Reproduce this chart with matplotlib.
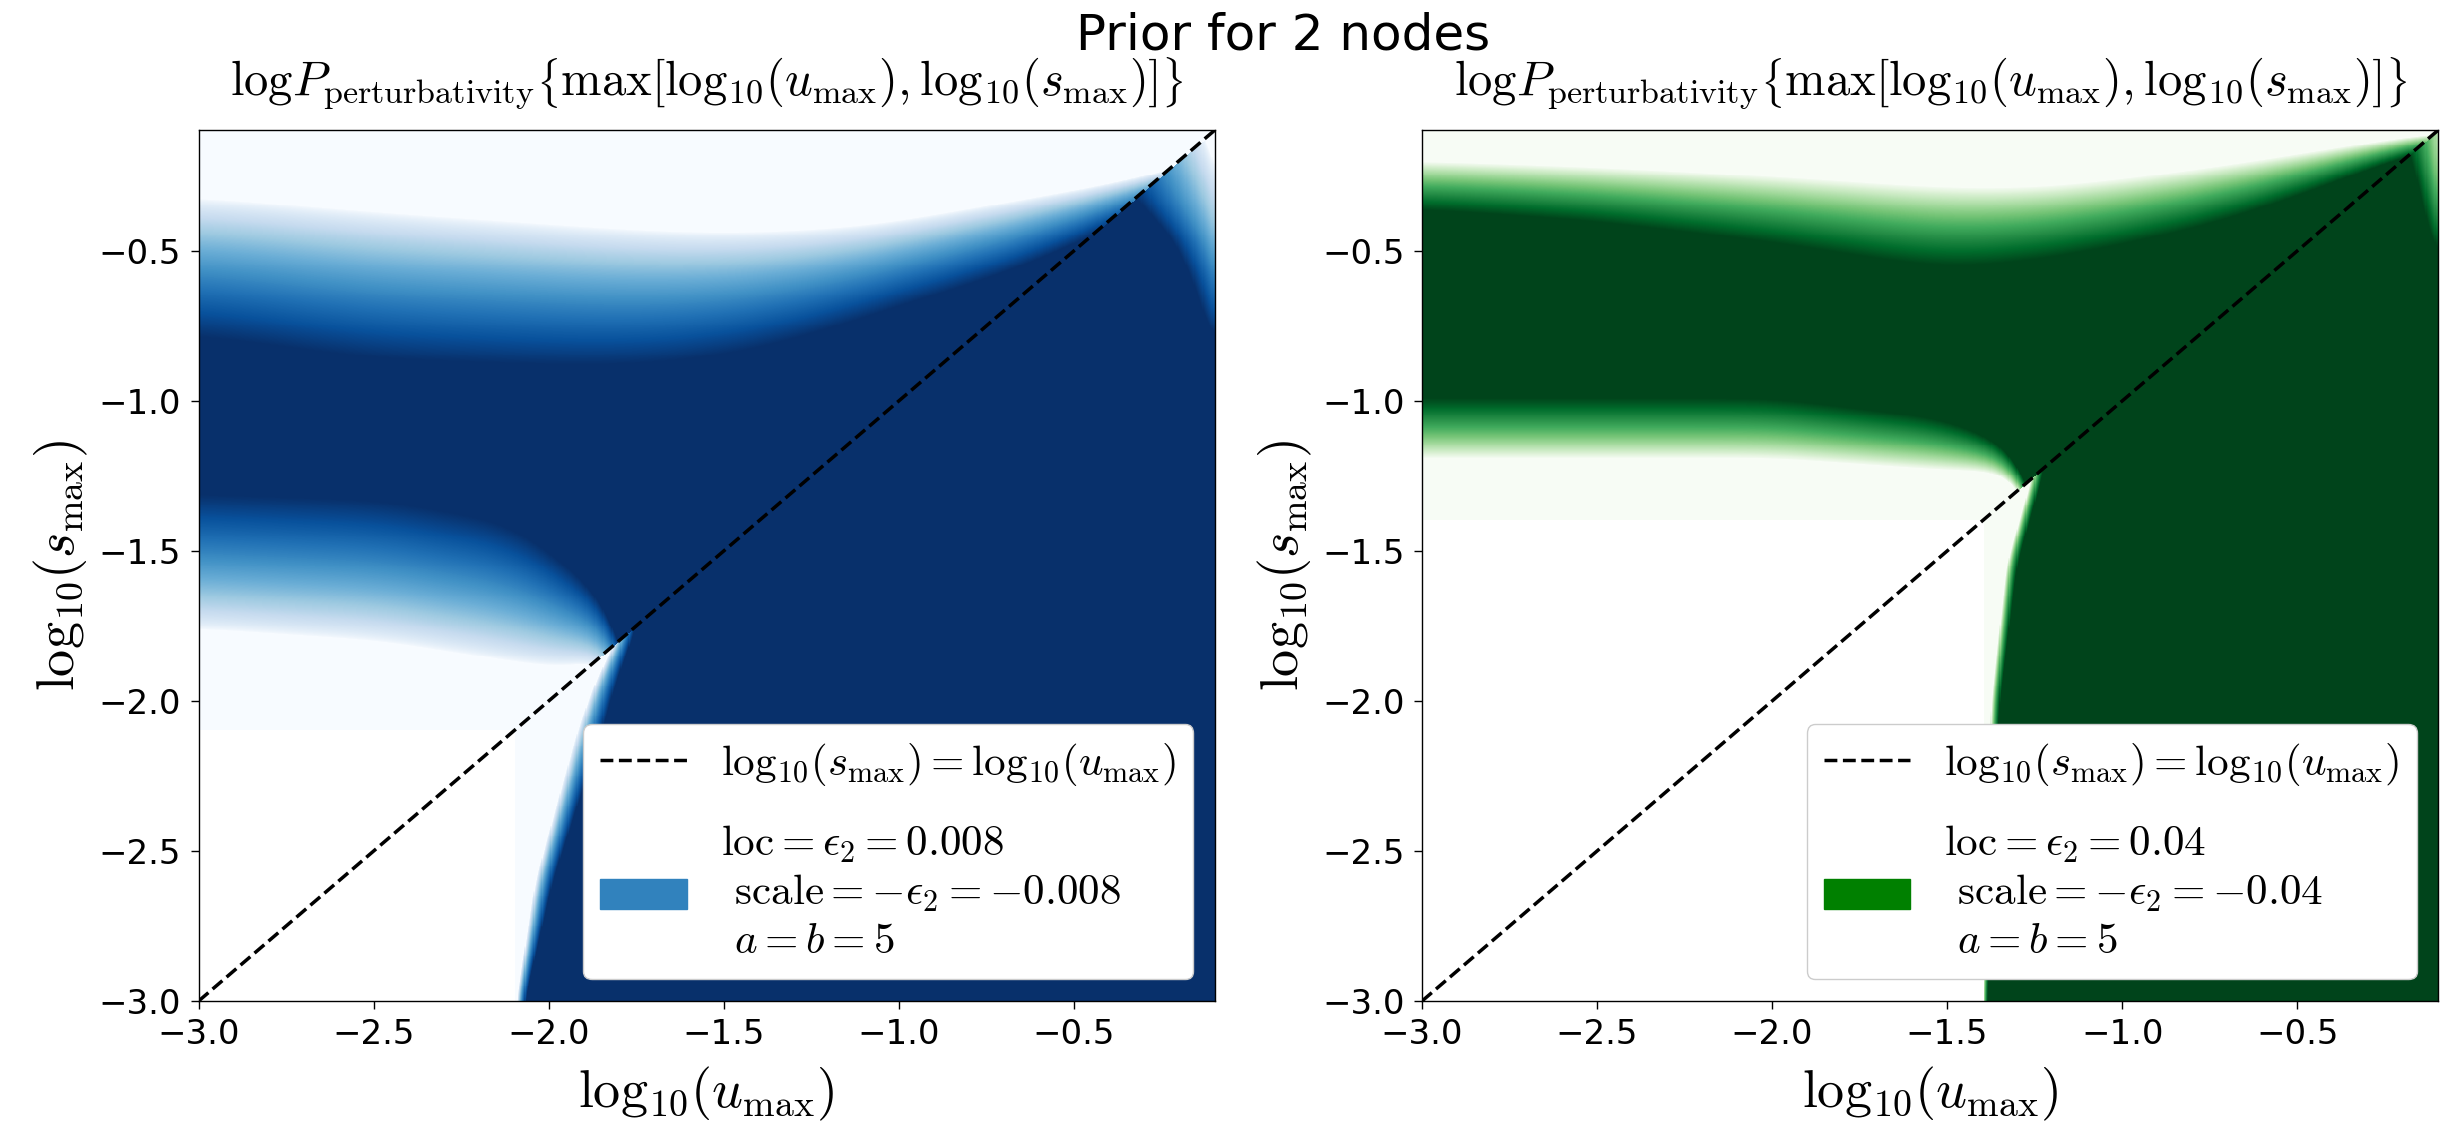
import numpy as np
import matplotlib.pyplot as plt
import matplotlib.patches as mpatches
from matplotlib.lines import Line2D

plt.rcParams['mathtext.fontset'] = 'cm'

# log10 range of both couplings
lo, hi = -3.0, np.log10(0.8)
ticks = [-3.0, -2.5, -2.0, -1.5, -1.0, -0.5]

# beta prior settings of the two panels
eps_values = [0.008, 0.04]
cmaps = ['Blues', 'Greens']
patch_colors = ['#3182bd', 'green']

# ---- eps = 0.008 surface (edges of the log-prior bands) ----
# upper band above the diagonal: light and dark edge vs log10(u)
b_top_x = [-3.0, -2.5, -2.0, -1.75, -1.5, -1.25, -1.05, -0.66, -0.32, -0.1]
b_top_light = [-0.32, -0.37, -0.41, -0.43, -0.44, -0.43, -0.41, -0.33, -0.26, -0.18]
b_top_dark = [-0.78, -0.86, -0.88, -0.88, -0.85, -0.78, -0.70, -0.56, -0.38, -0.26]
# lower band above the diagonal
b_low_x = [-3.0, -2.48, -2.1, -1.9, -1.77, -1.6]
b_low_dark = [-1.31, -1.33, -1.41, -1.60, -1.72, -3.0]
b_low_light = [-1.76, -1.80, -1.87, -1.90, -1.78, -3.05]
# left edge of the dark wedge below the diagonal, vs log10(s)
b_edge_y = [-3.0, -2.6, -2.1, -1.94, -1.75]
b_edge_light = [-2.095, -2.04, -1.92, -1.87, -1.79]
b_edge_dark = [-2.07, -1.99, -1.85, -1.81, -1.75]
# fade towards the right edge in the top-right corner, vs log10(s)
b_corner_y = [-0.85, -0.75, -0.6, -0.45, -0.32, -0.2, -0.1]
b_corner_dark = [-0.05, -0.12, -0.16, -0.22, -0.33, -0.40, -0.45]
b_corner_light = [0.10, 0.05, 0.0, -0.04, -0.06, -0.10, -0.14]

# ---- eps = 0.04 surface ----
g_top_x = [-3.0, -2.5, -2.0, -1.5, -1.245, -1.0, -0.68, -0.3, -0.1]
g_top_light = [-0.20, -0.22, -0.25, -0.29, -0.29, -0.26, -0.21, -0.14, -0.10]
g_top_dark = [-0.36, -0.40, -0.47, -0.56, -0.53, -0.48, -0.39, -0.23, -0.14]
g_low_x = [-3.0, -2.5, -2.0, -1.5, -1.23, -1.0]
g_low_dark = [-0.99, -0.99, -0.99, -1.06, -1.20, -3.0]
g_low_light = [-1.19, -1.19, -1.19, -1.23, -1.24, -3.05]
g_edge_y = [-3.0, -2.5, -2.0, -1.54, -1.22]
g_edge_light = [-1.40, -1.39, -1.375, -1.33, -1.25]
g_edge_dark = [-1.385, -1.37, -1.35, -1.30, -1.22]
g_corner_y = [-0.6, -0.45, -0.35, -0.25, -0.1]
g_corner_dark = [-0.05, -0.12, -0.14, -0.16, -0.20]
g_corner_light = [0.06, -0.02, -0.05, -0.07, -0.08]

surfaces = [
    (b_top_x, b_top_light, b_top_dark, b_low_x, b_low_light, b_low_dark,
     b_edge_y, b_edge_light, b_edge_dark, b_corner_y, b_corner_light, b_corner_dark),
    (g_top_x, g_top_light, g_top_dark, g_low_x, g_low_light, g_low_dark,
     g_edge_y, g_edge_light, g_edge_dark, g_corner_y, g_corner_light, g_corner_dark),
]

N = 900
grid = np.linspace(lo, hi, N)


def ramp(v, v0, v1):
    # 0 at v0, 1 at v1
    return np.clip((v - v0) / (v1 - v0), 0, 1)


def edge(xp, fp, sigma):
    # edge curve on the grid, rounded off with a gaussian
    e = np.interp(grid, xp, fp)
    step = grid[1] - grid[0]
    half = int(3 * sigma / step)
    k = np.exp(-0.5 * (np.arange(-half, half + 1) * step / sigma) ** 2)
    k /= k.sum()
    return np.convolve(np.pad(e, half, mode='edge'), k, mode='valid')


def surface(eps, tx, tl, td, lx, ll, ld, ey, el, ed, cy, cl, cd):
    X, Y = np.meshgrid(grid, grid)
    up = ramp(Y, edge(tx, tl, 0.12)[None, :], edge(tx, td, 0.12)[None, :])
    dn = ramp(Y, edge(lx, ll, 0.08)[None, :], edge(lx, ld, 0.08)[None, :])
    side = ramp(X, edge(ey, el, 0.04)[:, None], edge(ey, ed, 0.04)[:, None])
    corner = ramp(X, edge(cy, cl, 0.05)[:, None], edge(cy, cd, 0.05)[:, None])
    D = np.where(Y >= X, np.minimum(up, dn), np.minimum(side, corner)) ** 0.7
    # outside the support of the prior
    return np.ma.masked_where(np.maximum(X, Y) < np.log10(eps), D)


title = (r'$\mathrm{log}P_{\rm perturbativity}\left\{\mathrm{max}'
         r'[\mathrm{log}_{10}(u_{\rm max}),\mathrm{log}_{10}(s_{\rm max})]\right\}$')

fig = plt.figure(figsize=(24.4, 11.25), dpi=100)
axes = [fig.add_axes([0.0814, 0.1102, 0.4165, 0.7742]),
        fig.add_axes([0.5828, 0.1102, 0.4165, 0.7742])]

for ax, eps, cname, pc, pars in zip(axes, eps_values, cmaps, patch_colors, surfaces):
    cmap = plt.get_cmap(cname).copy()
    cmap.set_bad('white')
    D = surface(eps, *pars)
    ax.imshow(D, origin='lower', extent=[lo, hi, lo, hi], cmap=cmap,
              vmin=0, vmax=1, aspect='auto', interpolation='nearest')
    ax.plot([lo, hi], [lo, hi], 'k--', lw=2.5)
    ax.set_xlim(lo, hi)
    ax.set_ylim(lo, hi)
    ax.set_xticks(ticks)
    ax.set_yticks(ticks)
    ax.tick_params(labelsize=24.5, length=5.5, width=1, pad=7)
    for sp in ax.spines.values():
        sp.set_linewidth(1.0)
    ax.set_xlabel(r'$\mathrm{log}_{10}(u_{\rm max})$', fontsize=39, labelpad=10)
    ax.set_ylabel(r'$\mathrm{log}_{10}(s_{\rm max})$', fontsize=39, labelpad=6)
    ax.set_title(title, fontsize=35, pad=26)

    line = Line2D([], [], color='k', ls='--', lw=2.5,
                  label=r'$\mathrm{log}_{10}(s_{\rm max})=\mathrm{log}_{10}(u_{\rm max})$')
    patch = mpatches.Patch(color=pc, label=(
        r'$\mathrm{loc}=\epsilon_2=%g$' % eps + '\n'
        + r' $\mathrm{scale}=-\epsilon_2=-%g$' % eps + '\n'
        + r' $a=b=5$'))
    ax.legend(handles=[line, patch], loc='lower right', fontsize=31,
              framealpha=1.0, labelspacing=0.8)

fig.suptitle('Prior for 2 nodes', x=0.526, y=1 - 50 / 1125, va='baseline',
             fontsize=36)

fig.savefig('out.png', dpi=100)
